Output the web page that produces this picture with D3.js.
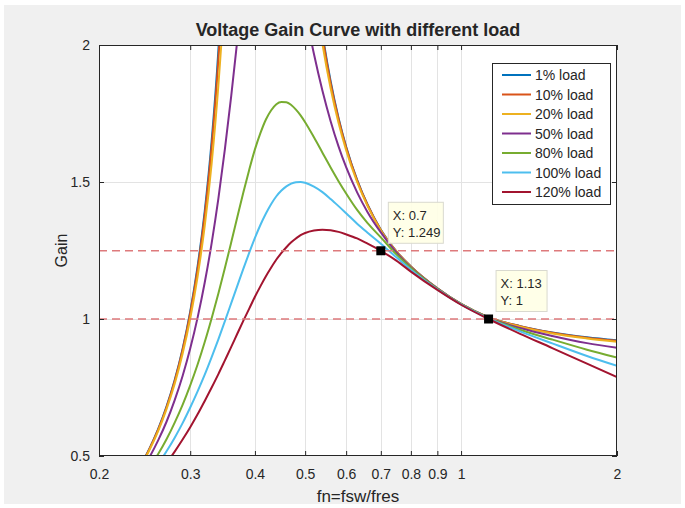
<!DOCTYPE html>
<html>
<head>
<meta charset="utf-8">
<script src="https://cdn.jsdelivr.net/npm/d3@7"></script>
<style>
body { margin: 0; background: #ffffff; }
svg text { font-family: "Liberation Sans", Arial, Helvetica, sans-serif; fill: #262626; }
</style>
</head>
<body>
<svg id="chart" width="685" height="508"></svg>
<script>
/*global d3 */

var app = (function () {
    "use strict";

    //axis ticks
    var fnTicks = [0.2, 0.3, 0.4, 0.5, 0.6, 0.7, 0.8, 0.9, 1, 2],
        gainTicks = [0.5, 1, 1.5, 2],
        loadNames = ["1% load", "10% load", "20% load", "50% load",
                     "80% load", "100% load", "120% load"],
        loadColors = ["#0072bd", "#d95319", "#edb120", "#7e2f8e",
                      "#77ac30", "#4dbeee", "#a2142f"],
        //[fn, gain]
        gainLoad1 = [[0.24, 0.462], [0.25, 0.525], [0.26, 0.597], [0.27, 0.680],
            [0.28, 0.777], [0.29, 0.891], [0.30, 1.027], [0.31, 1.192],
            [0.32, 1.394], [0.33, 1.650], [0.34, 1.981], [0.35, 2.427],
            [0.36, 3.059], [0.50, 2.625], [0.52, 2.281], [0.54, 2.042],
            [0.56, 1.868], [0.58, 1.734], [0.60, 1.629], [0.63, 1.508],
            [0.66, 1.417], [0.70, 1.326], [0.75, 1.247], [0.80, 1.192],
            [0.90, 1.112], [1.0, 1.055], [1.13, 1.006], [1.3, 0.974],
            [1.5, 0.951], [1.75, 0.933], [2.0, 0.922]],
        gainLoad10 = [[0.24, 0.461], [0.25, 0.524], [0.26, 0.595], [0.27, 0.678],
            [0.28, 0.774], [0.29, 0.887], [0.30, 1.021], [0.31, 1.182],
            [0.32, 1.380], [0.33, 1.628], [0.34, 1.947], [0.35, 2.369],
            [0.36, 2.953], [0.50, 2.598], [0.52, 2.265], [0.54, 2.033],
            [0.56, 1.861], [0.58, 1.730], [0.60, 1.626], [0.63, 1.506],
            [0.66, 1.416], [0.70, 1.325], [0.75, 1.247], [0.80, 1.192],
            [0.90, 1.112], [1.0, 1.055], [1.13, 1.006], [1.3, 0.974],
            [1.5, 0.950], [1.75, 0.932], [2.0, 0.921]],
        gainLoad20 = [[0.24, 0.458], [0.25, 0.520], [0.26, 0.590], [0.27, 0.671],
            [0.28, 0.764], [0.29, 0.873], [0.30, 1.002], [0.31, 1.155],
            [0.32, 1.340], [0.33, 1.568], [0.34, 1.853], [0.35, 2.216],
            [0.36, 2.687], [0.50, 2.522], [0.52, 2.221], [0.54, 2.004],
            [0.56, 1.842], [0.58, 1.716], [0.60, 1.616], [0.63, 1.500],
            [0.66, 1.412], [0.70, 1.323], [0.75, 1.246], [0.80, 1.191],
            [0.90, 1.111], [1.0, 1.055], [1.13, 1.006], [1.3, 0.972],
            [1.5, 0.947], [1.75, 0.929], [2.0, 0.917]],
        gainLoad50 = [[0.24, 0.439], [0.25, 0.494], [0.26, 0.556], [0.27, 0.625],
            [0.28, 0.704], [0.29, 0.792], [0.30, 0.892], [0.31, 1.005],
            [0.32, 1.133], [0.33, 1.277], [0.34, 1.439], [0.35, 1.620],
            [0.36, 1.814], [0.37, 2.021], [0.38, 2.227], [0.45, 2.611],
            [0.50, 2.128], [0.52, 1.967], [0.54, 1.833], [0.56, 1.722],
            [0.58, 1.630], [0.60, 1.554], [0.63, 1.462], [0.66, 1.390],
            [0.70, 1.316], [0.75, 1.243], [0.80, 1.189], [0.90, 1.111],
            [1.0, 1.054], [1.13, 1.005], [1.3, 0.967], [1.5, 0.938],
            [1.75, 0.912], [2.0, 0.895]],
        gainLoad80 = [[0.25, 0.455], [0.26, 0.506], [0.27, 0.561], [0.28, 0.622],
            [0.29, 0.687], [0.30, 0.758], [0.31, 0.834], [0.32, 0.916],
            [0.33, 1.003], [0.34, 1.093], [0.35, 1.186], [0.36, 1.280],
            [0.37, 1.373], [0.38, 1.463], [0.39, 1.545], [0.40, 1.619],
            [0.41, 1.679], [0.42, 1.728], [0.43, 1.762], [0.44, 1.784],
            [0.45, 1.792], [0.46, 1.791], [0.47, 1.781], [0.48, 1.764],
            [0.49, 1.743], [0.50, 1.718], [0.52, 1.663], [0.54, 1.607],
            [0.56, 1.553], [0.58, 1.503], [0.60, 1.458], [0.63, 1.398],
            [0.66, 1.350], [0.70, 1.298], [0.75, 1.236], [0.80, 1.186],
            [0.90, 1.110], [1.0, 1.054], [1.13, 1.004], [1.3, 0.961],
            [1.5, 0.925], [1.75, 0.888], [2.0, 0.859]],
        gainLoad100 = [[0.26, 0.470], [0.27, 0.517], [0.28, 0.567], [0.29, 0.620],
            [0.30, 0.677], [0.31, 0.736], [0.32, 0.797], [0.33, 0.861],
            [0.34, 0.926], [0.35, 0.992], [0.36, 1.058], [0.37, 1.122],
            [0.38, 1.184], [0.39, 1.242], [0.40, 1.296], [0.41, 1.344],
            [0.42, 1.385], [0.43, 1.420], [0.44, 1.448], [0.45, 1.469],
            [0.46, 1.484], [0.47, 1.494], [0.48, 1.499], [0.49, 1.500],
            [0.50, 1.497], [0.52, 1.483], [0.54, 1.463], [0.56, 1.438],
            [0.58, 1.412], [0.60, 1.386], [0.63, 1.348], [0.66, 1.315],
            [0.70, 1.275], [0.75, 1.225], [0.80, 1.180], [0.90, 1.108],
            [1.0, 1.053], [1.13, 1.002], [1.3, 0.955], [1.5, 0.911],
            [1.75, 0.865], [2.0, 0.829]],
        gainLoad120 = [[0.27, 0.474], [0.28, 0.516], [0.29, 0.560], [0.30, 0.605],
            [0.31, 0.652], [0.32, 0.701], [0.33, 0.750], [0.34, 0.799],
            [0.35, 0.849], [0.36, 0.898], [0.37, 0.947], [0.38, 0.994],
            [0.39, 1.038], [0.40, 1.081], [0.41, 1.120], [0.42, 1.156],
            [0.43, 1.188], [0.44, 1.217], [0.45, 1.241], [0.46, 1.262],
            [0.47, 1.280], [0.48, 1.294], [0.49, 1.306], [0.50, 1.314],
            [0.52, 1.323], [0.54, 1.326], [0.56, 1.324], [0.58, 1.318],
            [0.60, 1.309], [0.63, 1.294], [0.66, 1.275], [0.70, 1.249],
            [0.75, 1.213], [0.80, 1.173], [0.90, 1.106], [1.0, 1.052],
            [1.13, 1.0], [1.3, 0.946], [1.5, 0.894], [1.75, 0.837],
            [2.0, 0.788]],
        refGains = [1.249, 1],
        tipPoints = [[0.7, 1.249], [1.13, 1]];

    var pa = {left: 99, right: 617, top: 45, bottom: 456},
        series = [gainLoad1, gainLoad10, gainLoad20, gainLoad50,
                  gainLoad80, gainLoad100, gainLoad120];


    function makeScales () {
        var x, y;
        x = d3.scaleLog().domain([0.2, 2]).range([pa.left, pa.right]);
        y = d3.scaleLinear().domain([0.5, 2]).range([pa.bottom, pa.top]);
        return {x: x, y: y};
    }


    function drawFrame (svg, sc) {
        var grid;
        svg.append("rect").attr("x", 0).attr("y", 0)
            .attr("width", 685).attr("height", 508).attr("fill", "#ffffff");
        svg.append("rect").attr("x", 4).attr("y", 5)
            .attr("width", 677).attr("height", 499).attr("fill", "#f0f0f0");
        svg.append("rect")
            .attr("x", pa.left).attr("y", pa.top)
            .attr("width", pa.right - pa.left)
            .attr("height", pa.bottom - pa.top)
            .attr("fill", "#ffffff");
        grid = svg.append("g").attr("stroke", "#e3e3e3").attr("stroke-width", 1);
        grid.selectAll("line.gx")
            .data(fnTicks.slice(1, -1))
            .enter().append("line")
            .attr("class", "gx")
            .attr("x1", function (d) { return Math.round(sc.x(d)) + 0.5; })
            .attr("x2", function (d) { return Math.round(sc.x(d)) + 0.5; })
            .attr("y1", pa.top).attr("y2", pa.bottom);
        grid.selectAll("line.gy")
            .data(gainTicks.slice(1, -1))
            .enter().append("line")
            .attr("class", "gy")
            .attr("y1", function (d) { return Math.round(sc.y(d)) + 0.5; })
            .attr("y2", function (d) { return Math.round(sc.y(d)) + 0.5; })
            .attr("x1", pa.left).attr("x2", pa.right);
    }


    function styleAxis (g) {
        g.select(".domain").remove();
        g.selectAll(".tick line").attr("stroke", "#262626");
        g.selectAll(".tick text")
            .style("font-size", "14px")
            .attr("fill", "#262626");
    }


    function drawAxes (svg, sc) {
        var fmt = function (d) { return String(d); };
        svg.append("g")
            .attr("transform", "translate(0," + pa.bottom + ")")
            .call(d3.axisBottom(sc.x).tickValues(fnTicks).tickFormat(fmt)
                  .tickSizeInner(-5).tickSizeOuter(0).tickPadding(13))
            .call(styleAxis);
        svg.append("g")
            .attr("transform", "translate(0," + pa.top + ")")
            .call(d3.axisTop(sc.x).tickValues(fnTicks).tickFormat("")
                  .tickSizeInner(-5).tickSizeOuter(0))
            .call(styleAxis);
        svg.append("g")
            .attr("transform", "translate(" + pa.left + ",0)")
            .call(d3.axisLeft(sc.y).tickValues(gainTicks).tickFormat(fmt)
                  .tickSizeInner(-5).tickSizeOuter(0).tickPadding(9))
            .call(styleAxis);
        svg.append("g")
            .attr("transform", "translate(" + pa.right + ",0)")
            .call(d3.axisRight(sc.y).tickValues(gainTicks).tickFormat("")
                  .tickSizeInner(-5).tickSizeOuter(0))
            .call(styleAxis);
        svg.append("rect")
            .attr("x", pa.left + 0.5).attr("y", pa.top + 0.5)
            .attr("width", pa.right - pa.left - 1)
            .attr("height", pa.bottom - pa.top - 1)
            .attr("fill", "none").attr("stroke", "#262626");
    }


    function drawCurves (svg, sc) {
        var line, g;
        svg.append("clipPath").attr("id", "plotclip")
            .append("rect")
            .attr("x", pa.left).attr("y", pa.top)
            .attr("width", pa.right - pa.left)
            .attr("height", pa.bottom - pa.top);
        line = d3.line()
            .x(function (d) { return sc.x(d[0]); })
            .y(function (d) { return sc.y(d[1]); })
            .curve(d3.curveMonotoneX);
        g = svg.append("g").attr("clip-path", "url(#plotclip)");
        g.selectAll("path.load")
            .data(series)
            .enter().append("path")
            .attr("class", "load")
            .attr("d", line)
            .attr("fill", "none")
            .attr("stroke", function (ignore, i) { return loadColors[i]; })
            .attr("stroke-width", 2);
        g.selectAll("line.ref")
            .data(refGains)
            .enter().append("line")
            .attr("class", "ref")
            .attr("x1", pa.left).attr("x2", pa.right)
            .attr("y1", function (d) { return sc.y(d); })
            .attr("y2", function (d) { return sc.y(d); })
            .attr("stroke", "#de7a7c")
            .attr("stroke-width", 1.5)
            .attr("stroke-dasharray", "8,5");
    }


    function drawTips (svg, sc) {
        var tips = svg.append("g");
        tipPoints.forEach(function (p) {
            var px = sc.x(p[0]), py = sc.y(p[1]), bx = px + 7, by = py - 49,
                t = tips.append("g");
            t.append("rect")
                .attr("x", bx + 0.5).attr("y", by + 0.5)
                .attr("width", p[0] < 1 ? 55 : 51).attr("height", 41)
                .attr("fill", "#ffffe6").attr("fill-opacity", 0.9)
                .attr("stroke", "#d9d9cf");
            t.append("text").attr("x", bx + 5).attr("y", by + 18)
                .style("font-size", "13px").text("X: " + p[0]);
            t.append("text").attr("x", bx + 5).attr("y", by + 35)
                .style("font-size", "13px").text("Y: " + p[1]);
            tips.append("rect")
                .attr("x", px - 4.5).attr("y", py - 4.5)
                .attr("width", 9).attr("height", 9)
                .attr("fill", "#000000");
        });
    }


    function drawLegend (svg) {
        var lg = svg.append("g"), rowh = 19.5, top = 75;
        lg.append("rect")
            .attr("x", 492.5).attr("y", 63.5)
            .attr("width", 118).attr("height", 141)
            .attr("fill", "#ffffff").attr("stroke", "#262626");
        loadNames.forEach(function (name, i) {
            var y = top + i * rowh;
            lg.append("line")
                .attr("x1", 502).attr("x2", 531)
                .attr("y1", y).attr("y2", y)
                .attr("stroke", loadColors[i]).attr("stroke-width", 2);
            lg.append("text")
                .attr("x", 535).attr("y", y + 5)
                .style("font-size", "14px").text(name);
        });
    }


    function drawLabels (svg) {
        svg.append("text")
            .attr("x", (pa.left + pa.right) / 2).attr("y", 36)
            .attr("text-anchor", "middle")
            .style("font-size", "18px").style("font-weight", "bold")
            .attr("fill", "#000000")
            .text("Voltage Gain Curve with different load");
        svg.append("text")
            .attr("x", (pa.left + pa.right) / 2).attr("y", 502)
            .attr("text-anchor", "middle")
            .style("font-size", "17px")
            .text("fn=fsw/fres");
        svg.append("text")
            .attr("transform", "translate(67," + ((pa.top + pa.bottom) / 2) + ") rotate(-90)")
            .attr("text-anchor", "middle")
            .style("font-size", "16px")
            .text("Gain");
    }


return {
    init: function () {
        var svg = d3.select("#chart"), sc = makeScales();
        drawFrame(svg, sc);
        drawCurves(svg, sc);
        drawAxes(svg, sc);
        drawLegend(svg);
        drawTips(svg, sc);
        drawLabels(svg);
    }
};
}());

app.init();
</script>
</body>
</html>
